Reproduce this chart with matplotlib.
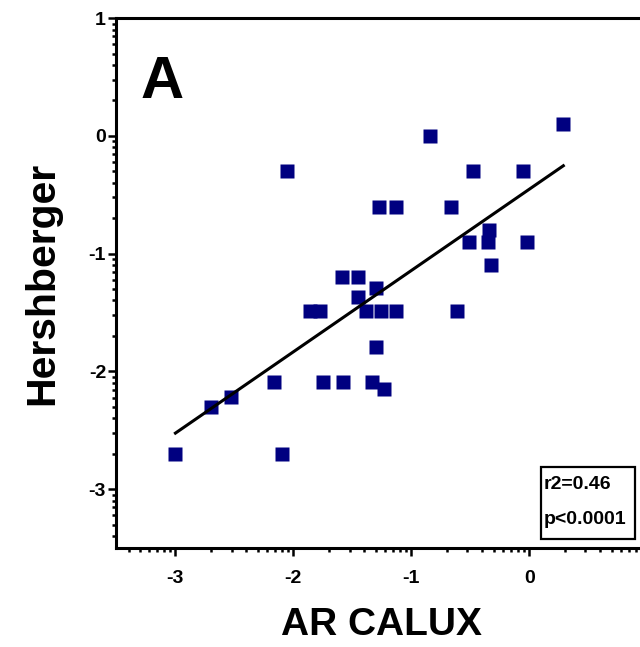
import numpy as np
import matplotlib
matplotlib.use('Agg')
from matplotlib import pyplot as plt
from matplotlib.patches import Rectangle

plt.rcParams['font.family'] = ['Liberation Sans', 'DejaVu Sans']
plt.rcParams['font.weight'] = 'bold'

# log10 values
ar_calux = [-1.27, -1.13, -0.66, -0.34, -0.51, -0.35, -0.02, -0.32,
            -1.59, -1.45, -1.30, -1.45, -1.86, -1.77, -1.38, -1.26,
            -1.13, -0.61, -1.30, -2.16, -1.75, -1.58, -1.33, -1.23,
            -2.70, -2.53, -3.00, -2.10, -2.05, -0.84, -0.48, -0.05, 0.29]
hershberger = [-0.60, -0.60, -0.60, -0.80, -0.90, -0.90, -0.90, -1.10,
               -1.20, -1.20, -1.29, -1.37, -1.49, -1.49, -1.49, -1.49,
               -1.49, -1.49, -1.79, -2.09, -2.09, -2.09, -2.09, -2.15,
               -2.30, -2.22, -2.70, -2.70, -0.30, 0.00, -0.30, -0.30, 0.10]
stats_text = ['r2=0.46', 'p<0.0001']

x = np.array(ar_calux)
y = np.array(hershberger)
slope, intercept = np.polyfit(x, y, 1)
xfit = np.array([x.min(), x.max()])

fig = plt.figure(figsize=(6.4, 6.47), dpi=100)
ax = fig.add_axes([0.182, 0.153, 0.829, 0.819])

ax.plot(x, y, 's', color='#000080', ms=9.5, mec='none')
ax.plot(xfit, slope * xfit + intercept, color='black', lw=2.2)

ax.set_xlim(-3.5, 1)
ax.set_ylim(-3.5, 1)

ax.set_xticks([-3, -2, -1, 0])
ax.set_yticks([-3, -2, -1, 0, 1])
ax.set_xticklabels(['-3', '-2', '-1', '0'])
ax.set_yticklabels(['-3', '-2', '-1', '0', '1'])
minor = [n + np.log10(k) for n in range(-4, 1) for k in range(2, 10)]
ax.set_xticks([m for m in minor if -3.5 < m < 1], minor=True)
ax.set_yticks([m for m in minor if -3.5 < m < 1], minor=True)

for s in ['left', 'bottom', 'top']:
    ax.spines[s].set_linewidth(2.2)
ax.spines['right'].set_visible(False)
ax.tick_params(which='major', direction='out', length=5.5, width=1.8,
               labelsize=14)
ax.tick_params(which='minor', direction='out', length=3.2, width=1.8)
ax.tick_params(axis='x', which='major', pad=10)
ax.tick_params(axis='y', which='major', pad=2)
ax.tick_params(top=False, right=False, which='both')

ax.set_xlabel('AR CALUX', fontsize=28, fontweight='bold', labelpad=15)
ax.set_ylabel('Hershberger', fontsize=29.5, fontweight='bold', labelpad=20)

ax.text(0.046, 0.849, 'A', transform=ax.transAxes, fontsize=43,
        fontweight='bold', va='baseline', ha='left')

ax.add_patch(Rectangle((0.801, 0.017), 0.176, 0.136, transform=ax.transAxes,
                       fill=False, ec='black', lw=1.6))
ax.text(0.806, 0.111, stats_text[0], transform=ax.transAxes, fontsize=14,
        fontweight='bold', va='baseline')
ax.text(0.806, 0.045, stats_text[1], transform=ax.transAxes, fontsize=14,
        fontweight='bold', va='baseline')

plt.savefig('out.png', dpi=100)
